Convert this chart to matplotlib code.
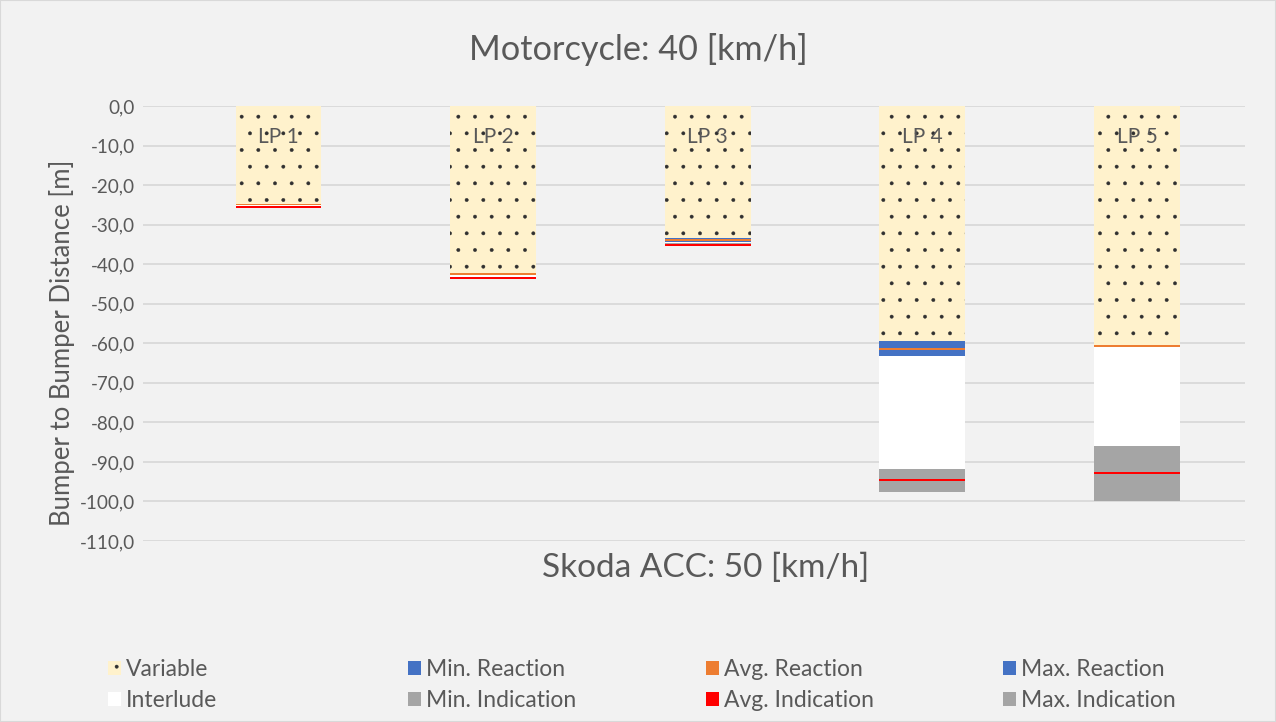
import matplotlib
matplotlib.use("Agg")
import matplotlib.pyplot as plt
from matplotlib.patches import Rectangle
import numpy as np

plt.rcParams['font.family'] = ['Lato', 'DejaVu Sans']
plt.rcParams['hatch.linewidth'] = 0.3

# ---- data (values in metres, drawn downward as negative distances) ----
categories = ["LP 1", "LP 2", "LP 3", "LP 4", "LP 5"]
variable       = [24.7, 42.3, 33.4, 59.3, 60.5]
min_reaction   = [0.0, 0.0, 0.3, 1.9, 0.0]
avg_reaction   = [0.4, 0.4, 0.4, 0.4, 0.4]
max_reaction   = [0.0, 0.0, 0.2, 1.6, 0.0]
interlude      = [0.3, 0.6, 0.4, 28.7, 25.1]
min_indication = [0.0, 0.0, 0.2, 2.5, 6.6]
avg_indication = [0.4, 0.4, 0.4, 0.4, 0.4]
max_indication = [0.0, 0.0, 0.2, 2.8, 7.0]
y_ticks = [0, -10, -20, -30, -40, -50, -60, -70, -80, -90, -100, -110]
y_tick_labels = ["0,0", "-10,0", "-20,0", "-30,0", "-40,0", "-50,0",
                 "-60,0", "-70,0", "-80,0", "-90,0", "-100,0", "-110,0"]

series = [
    ("Variable", variable, "#FFF2CC", "."),
    ("Min. Reaction", min_reaction, "#4472C4", None),
    ("Avg. Reaction", avg_reaction, "#ED7D31", None),
    ("Max. Reaction", max_reaction, "#4472C4", None),
    ("Interlude", interlude, "#FFFFFF", None),
    ("Min. Indication", min_indication, "#A5A5A5", None),
    ("Avg. Indication", avg_indication, "#FF0000", None),
    ("Max. Indication", max_indication, "#A5A5A5", None),
]

W, H = 1276, 722
fig = plt.figure(figsize=(W / 100, H / 100), dpi=100, facecolor="#F2F2F2")
ax = fig.add_axes([143 / W, 1 - 541 / H, (1245 - 143) / W, (541 - 106) / H])
ax.set_facecolor("#F2F2F2")

x = np.arange(len(categories))
bottom = np.zeros(len(categories))
handles = {}
for name, vals, col, hatch in series:
    v = -np.array(vals, dtype=float)
    if hatch:
        b = ax.bar(x, v, 0.4, bottom=bottom, color=col, hatch=hatch,
                   edgecolor="#303030", linewidth=0, zorder=3)
    else:
        b = ax.bar(x, v, 0.4, bottom=bottom, color=col, linewidth=0, zorder=3)
    handles[name] = b
    bottom = bottom + v

# data labels for the variable bars
for xi, c in zip(x, categories):
    ax.text(xi, -7.85, c, ha="center", va="center", fontsize=15,
            color="#595959", zorder=4)

ax.set_ylim(-110, 0)
ax.set_xlim(-(278.5 - 143) / 214.6, 4 + (1245 - 1137) / 214.6)
ax.set_yticks(y_ticks)
ax.set_yticklabels(y_tick_labels)
ax.set_xticks([])
ax.tick_params(axis="y", length=0, pad=6, labelsize=13.6, labelcolor="#595959")
ax.grid(axis="y", color="#D9D9D9", linewidth=1.3, zorder=0)
for s in ax.spines.values():
    s.set_visible(False)

fig.text(638 / W, 1 - 50 / H, "Motorcycle: 40 [km/h]", ha="center", va="center",
         fontsize=24.7, color="#595959")
fig.text(706 / W, 1 - 568 / H, "Skoda ACC: 50 [km/h]", ha="center", va="center",
         fontsize=24, color="#595959")
fig.text(62 / W, 1 - 343 / H, "Bumper to Bumper Distance [m]", ha="center",
         va="center", rotation=90, fontsize=18.5, color="#595959")

# legend: four columns of two entries
cols = [["Variable", "Interlude"], ["Min. Reaction", "Min. Indication"],
        ["Avg. Reaction", "Avg. Indication"], ["Max. Reaction", "Max. Indication"]]
col_x = [108, 408, 706, 1003]
for names, cx in zip(cols, col_x):
    fig.legend([handles[n] for n in names], names, loc="upper left",
               bbox_to_anchor=(cx / W, 1 - 659 / H), frameon=False,
               fontsize=16.5, handlelength=0.57, handleheight=0.57,
               handletextpad=0.22, labelspacing=0.44, borderpad=0,
               borderaxespad=0, labelcolor="#595959")

fig.patches.append(Rectangle((0, 0), 1, 1, transform=fig.transFigure,
                             fill=False, edgecolor="#D9D9D9", linewidth=1.5))

fig.savefig("out.png", dpi=100, facecolor="#F2F2F2")
